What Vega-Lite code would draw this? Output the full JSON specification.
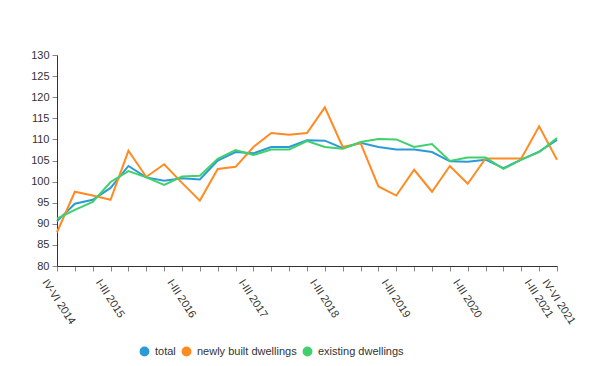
{
  "$schema": "https://vega.github.io/schema/vega-lite/v6.json",
  "width": 500,
  "height": 211,
  "autosize": "none",
  "padding": {"left": 57, "top": 55, "right": 36, "bottom": 100},
  "background": "white",
  "config": {
    "view": {"stroke": null},
    "font": "Liberation Sans",
    "axis": {"labelFont": "Liberation Sans", "labelFontSize": 11, "labelColor": "#333333", "domainColor": "#333333", "tickColor": "#888888", "grid": false}
  },
  "data": {
    "values": [
      {"q": "IV-VI 2014", "total": 90.6, "newly built dwellings": 88.0, "existing dwellings": 91.2},
      {"q": "VII-IX 2014", "total": 94.75, "newly built dwellings": 97.6, "existing dwellings": 93.3},
      {"q": "X-XII 2014", "total": 95.7, "newly built dwellings": 96.7, "existing dwellings": 95.2},
      {"q": "I-III 2015", "total": 98.5, "newly built dwellings": 95.7, "existing dwellings": 99.9},
      {"q": "IV-VI 2015", "total": 103.7, "newly built dwellings": 107.3, "existing dwellings": 102.5},
      {"q": "VII-IX 2015", "total": 101.0, "newly built dwellings": 101.1, "existing dwellings": 101.0},
      {"q": "X-XII 2015", "total": 100.2, "newly built dwellings": 104.1, "existing dwellings": 99.2},
      {"q": "I-III 2016", "total": 100.8, "newly built dwellings": 99.7, "existing dwellings": 101.2},
      {"q": "IV-VI 2016", "total": 100.5, "newly built dwellings": 95.5, "existing dwellings": 101.4},
      {"q": "VII-IX 2016", "total": 105.0, "newly built dwellings": 103.0, "existing dwellings": 105.4},
      {"q": "X-XII 2016", "total": 107.0, "newly built dwellings": 103.5, "existing dwellings": 107.5},
      {"q": "I-III 2017", "total": 106.7, "newly built dwellings": 108.2, "existing dwellings": 106.3},
      {"q": "IV-VI 2017", "total": 108.2, "newly built dwellings": 111.5, "existing dwellings": 107.6},
      {"q": "VII-IX 2017", "total": 108.2, "newly built dwellings": 111.1, "existing dwellings": 107.6},
      {"q": "X-XII 2017", "total": 109.8, "newly built dwellings": 111.5, "existing dwellings": 109.6},
      {"q": "I-III 2018", "total": 109.7, "newly built dwellings": 117.6, "existing dwellings": 108.2},
      {"q": "IV-VI 2018", "total": 107.9, "newly built dwellings": 108.2, "existing dwellings": 107.8},
      {"q": "VII-IX 2018", "total": 109.2, "newly built dwellings": 109.1, "existing dwellings": 109.4},
      {"q": "X-XII 2018", "total": 108.2, "newly built dwellings": 98.85, "existing dwellings": 110.1},
      {"q": "I-III 2019", "total": 107.6, "newly built dwellings": 96.7, "existing dwellings": 110.0},
      {"q": "IV-VI 2019", "total": 107.6, "newly built dwellings": 102.8, "existing dwellings": 108.2},
      {"q": "VII-IX 2019", "total": 107.0, "newly built dwellings": 97.6, "existing dwellings": 108.9},
      {"q": "X-XII 2019", "total": 104.8, "newly built dwellings": 103.7, "existing dwellings": 104.9},
      {"q": "I-III 2020", "total": 104.7, "newly built dwellings": 99.5, "existing dwellings": 105.7},
      {"q": "IV-VI 2020", "total": 105.2, "newly built dwellings": 105.5, "existing dwellings": 105.7},
      {"q": "VII-IX 2020", "total": 103.2, "newly built dwellings": 105.5, "existing dwellings": 103.0},
      {"q": "X-XII 2020", "total": 105.2, "newly built dwellings": 105.5, "existing dwellings": 105.2},
      {"q": "I-III 2021", "total": 107.1, "newly built dwellings": 113.1, "existing dwellings": 107.0},
      {"q": "IV-VI 2021", "total": 109.9, "newly built dwellings": 105.2, "existing dwellings": 110.3}
    ]
  },
  "transform": [
    {"fold": ["total", "newly built dwellings", "existing dwellings"], "as": ["series", "value"]}
  ],
  "mark": {"type": "line", "strokeWidth": 2},
  "encoding": {
    "x": {
      "field": "q", "type": "ordinal", "sort": null,
      "scale": {"type": "point", "padding": 0},
      "axis": {
        "title": null, "labelAngle": 57, "labelAlign": "left", "labelBaseline": "middle", "labelOverlap": false,
        "labelFontSize": 11, "tickSize": 5, "labelPadding": 9, "labelOffset": -13,
        "labelExpr": "indexof(datum.label, 'I-III') == 0 || datum.label == 'IV-VI 2014' || datum.label == 'IV-VI 2021' ? datum.label : ''"
      }
    },
    "y": {
      "field": "value", "type": "quantitative",
      "scale": {"domain": [80, 130], "nice": false, "zero": false},
      "axis": {"title": null, "values": [80, 85, 90, 95, 100, 105, 110, 115, 120, 125, 130], "tickSize": 5, "labelPadding": 3}
    },
    "color": {
      "field": "series", "type": "nominal",
      "sort": ["total", "newly built dwellings", "existing dwellings"],
      "scale": {"domain": ["total", "newly built dwellings", "existing dwellings"], "range": ["#2b9ad6", "#ff8b22", "#40d06c"]},
      "legend": {
        "title": null, "orient": "none", "direction": "horizontal", "legendX": 82, "legendY": 291,
        "symbolType": "circle", "symbolSize": 24, "symbolStrokeWidth": 5,
        "labelFontSize": 11, "labelColor": "#333333", "columnPadding": -2, "labelOffset": 5
      }
    },
    "order": {"field": "series"}
  }
}
